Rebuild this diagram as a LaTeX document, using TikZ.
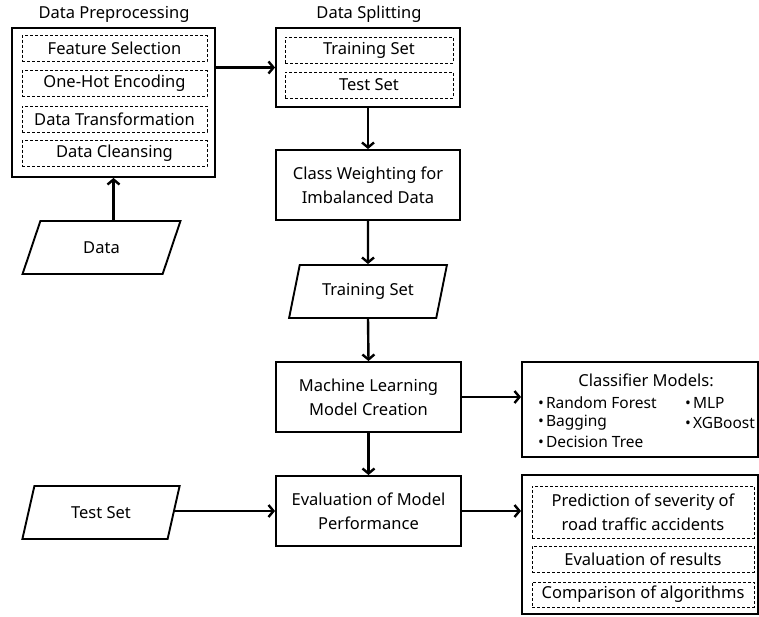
\documentclass[tikz,border=0pt]{standalone}
\usepackage{fontspec}
\setmainfont{Noto Sans}
\usetikzlibrary{shapes.geometric, arrows.meta, positioning, calc}

\begin{document}
\begin{tikzpicture}[
  x=1pt, y=-1pt,
  txt/.style={font=\fontsize{16.5}{23}\selectfont, inner sep=0pt},
  itm/.style={font=\fontsize{15.5}{20}\selectfont, inner sep=0pt, anchor=west},
  grpbox/.style={draw, line width=1.9pt, inner sep=0pt},
  prcbox/.style={draw, line width=1.9pt, align=center, inner sep=0pt, font=\fontsize{16.5}{24}\selectfont},
  dshbox/.style={draw, line width=0.8pt, dash pattern=on 3pt off 2pt, align=center, inner sep=0pt, font=\fontsize{16.5}{24}\selectfont},
  iobox/.style={draw, line width=1.9pt, trapezium, trapezium left angle=66, trapezium right angle=114, trapezium stretches=true, minimum width=158pt, minimum height=53pt, inner sep=0pt, font=\fontsize{16.5}{24}\selectfont},
  flw/.style={line width=2.4pt, -{Straight Barb[length=5pt, width=12pt, line width=2.4pt]}}
]
  \useasboundingbox (0,0) rectangle (759,616);

  \node[txt] (preptitle) at (114, 14) {Data Preprocessing};
  \node[grpbox, minimum width=203pt, minimum height=149pt] (prep) at (113.5, 102.5) {};
  \node[dshbox, minimum width=185pt, minimum height=26pt] (fsel) at (114.5, 48.5) {Feature Selection};
  \node[dshbox, minimum width=185pt, minimum height=26pt] (ohe) at (114.5, 83.5) {One-Hot Encoding};
  \node[dshbox, minimum width=185pt, minimum height=26pt] (dtrans) at (114.5, 119) {Data Transformation};
  \node[dshbox, minimum width=185pt, minimum height=26pt] (dclean) at (114.5, 153.5) {Data Cleansing};

  \node[txt] (splittitle) at (369, 14) {Data Splitting};
  \node[grpbox, minimum width=184pt, minimum height=79pt] (split) at (368, 67.5) {};
  \node[dshbox, minimum width=168pt, minimum height=26pt] (trainset) at (369, 50) {Training Set};
  \node[dshbox, minimum width=168pt, minimum height=26pt] (testset) at (369, 85) {Test Set};

  \node[iobox] (data) at (101.5, 247.5) {Data};
  \node[prcbox, minimum width=184pt, minimum height=70pt] (weight) at (368, 185) {Class Weighting for\\Imbalanced Data};
  \node[iobox] (train) at (368, 291.5) {Training Set};
  \node[prcbox, minimum width=185pt, minimum height=70pt] (mlc) at (368.5, 397) {Machine Learning\\Model Creation};
  \node[prcbox, minimum width=185pt, minimum height=70pt] (evalm) at (368.5, 511) {Evaluation of Model\\Performance};
  \node[iobox] (test) at (101, 512.5) {Test Set};

  \node[grpbox, minimum width=236pt, minimum height=95pt] (clf) at (640, 409.5) {};
  \node[txt] (clftitle) at (646, 380) {Classifier Models:};
  \node[itm] (rf) at (538, 403) {\textbullet\hspace{2pt}Random Forest};
  \node[itm] (bag) at (538, 423) {\textbullet\hspace{2pt}Bagging};
  \node[itm] (dt) at (538, 442) {\textbullet\hspace{2pt}Decision Tree};
  \node[itm] (mlp) at (685, 403) {\textbullet\hspace{2pt}MLP};
  \node[itm] (xgb) at (685, 423) {\textbullet\hspace{2pt}XGBoost};

  \node[grpbox, minimum width=236pt, minimum height=139pt] (res) at (640, 544.5) {};
  \node[dshbox, minimum width=222pt, minimum height=52pt] (pred) at (643, 512) {Prediction of severity of\\road traffic accidents};
  \node[dshbox, minimum width=222pt, minimum height=26pt] (evres) at (643, 559) {Evaluation of results};
  \node[dshbox, minimum width=222pt, minimum height=25pt] (comp) at (643, 594.5) {Comparison of algorithms};

  \draw[flw] (prep.south |- data.north) -- (prep.south);
  \draw[flw] (prep.east |- split.west) -- (split.west);
  \draw[flw] (split.south) -- (weight.north);
  \draw[flw] (weight.south) -- (train.north);
  \draw[flw] (train.south) -- (mlc.north);
  \draw[flw] (mlc.south) -- (evalm.north);
  \draw[flw] (mlc.east) -- (mlc.east -| clf.west);
  \draw[flw] (test.east |- evalm.west) -- (evalm.west);
  \draw[flw] (evalm.east) -- (evalm.east -| res.west);
\end{tikzpicture}
\end{document}
